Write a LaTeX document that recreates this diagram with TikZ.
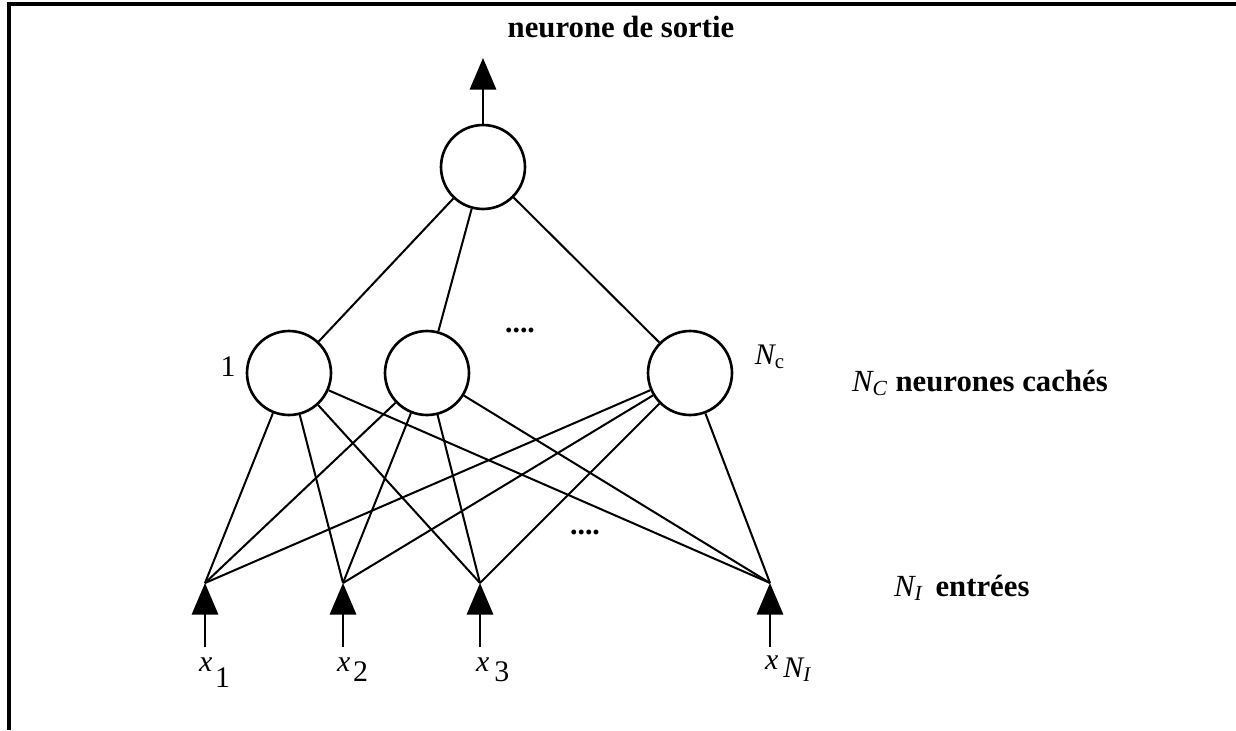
\documentclass[tikz,border=0pt]{standalone}
\usepackage{fontspec}
\setmainfont{Liberation Serif}
\usetikzlibrary{arrows.meta}
\begin{document}
\begin{tikzpicture}[x = 0.02cm, y = -0.02cm,
        neur/.style = {circle, draw, line width = 1.5pt, minimum size = 1.68cm, inner sep = 0pt},
        lien/.style = {line width = 1.15pt},
        fleche/.style = {line width = 1.15pt, -{Triangle[length = 18pt, width = 15pt]}},
        gras/.style = {font = \fontsize{17.5}{20}\selectfont\bfseries},
        texte/.style = {font = \fontsize{17}{20}\selectfont}]
    \useasboundingbox (0, 0) rectangle (1236, 730);
    \draw[line width = 2pt] (9, 730) -- (9, 4) -- (1236, 4);
    % couche de sortie
    \node[gras] (titre) at (621, 27) {neurone de sortie};
    \node[neur] (s) at (483, 167) {};
    \coordinate (out) at (483, 58);
    \draw[fleche] (s) -- (out);
    % couche cachee
    \node[neur] (c1) at (289, 373) {};
    \node[neur] (c2) at (427, 373) {};
    \node[neur] (c3) at (690, 373) {};
    \node[texte] (un) at (228, 367) {1};
    \node[texte] (nc) at (770, 357) {\itshape N\textsubscript{\upshape c}};
    \node[texte, font = \fontsize{17}{20}\selectfont\bfseries] (pts1) at (520, 330) {....};
    \node[gras, anchor = west] (cach) at (846, 383) {{\mdseries\itshape N\textsubscript{C}} neurones cachés};
    \foreach \k in {1, 2, 3}{
        \draw[lien] (s) -- (c\k);
    }
    % entrees
    \foreach \i/\ex in {1/205, 2/343, 3/480, 4/770}{
        \coordinate (e\i) at (\ex, 583);
        \coordinate (b\i) at (\ex, 647);
        \draw[fleche] (b\i) -- (e\i);
        \foreach \k in {1, 2, 3}{
            \draw[lien] (c\k) -- (e\i);
        }
    }
    \node[texte, font = \fontsize{17}{20}\selectfont\bfseries] (pts2) at (585, 532) {....};
    \node[gras, anchor = west] (entr) at (888, 588) {{\mdseries\itshape N\textsubscript{I}}\, entrées};
    \node[texte, anchor = base west] (x1) at (193, 671) {\itshape x\kern1.5pt\raisebox{-1.2ex}{\upshape 1}};
    \node[texte, anchor = base west] (x2) at (331, 671) {\itshape x\kern1.5pt\raisebox{-0.8ex}{\upshape 2}};
    \node[texte, anchor = base west] (x3) at (470, 671) {\itshape x\,\raisebox{-0.8ex}{\upshape 3}};
    \node[texte, anchor = base west] (x4) at (759, 669) {\itshape x\,\raisebox{-0.6ex}{N\textsubscript{I}}};
\end{tikzpicture}
\end{document}
